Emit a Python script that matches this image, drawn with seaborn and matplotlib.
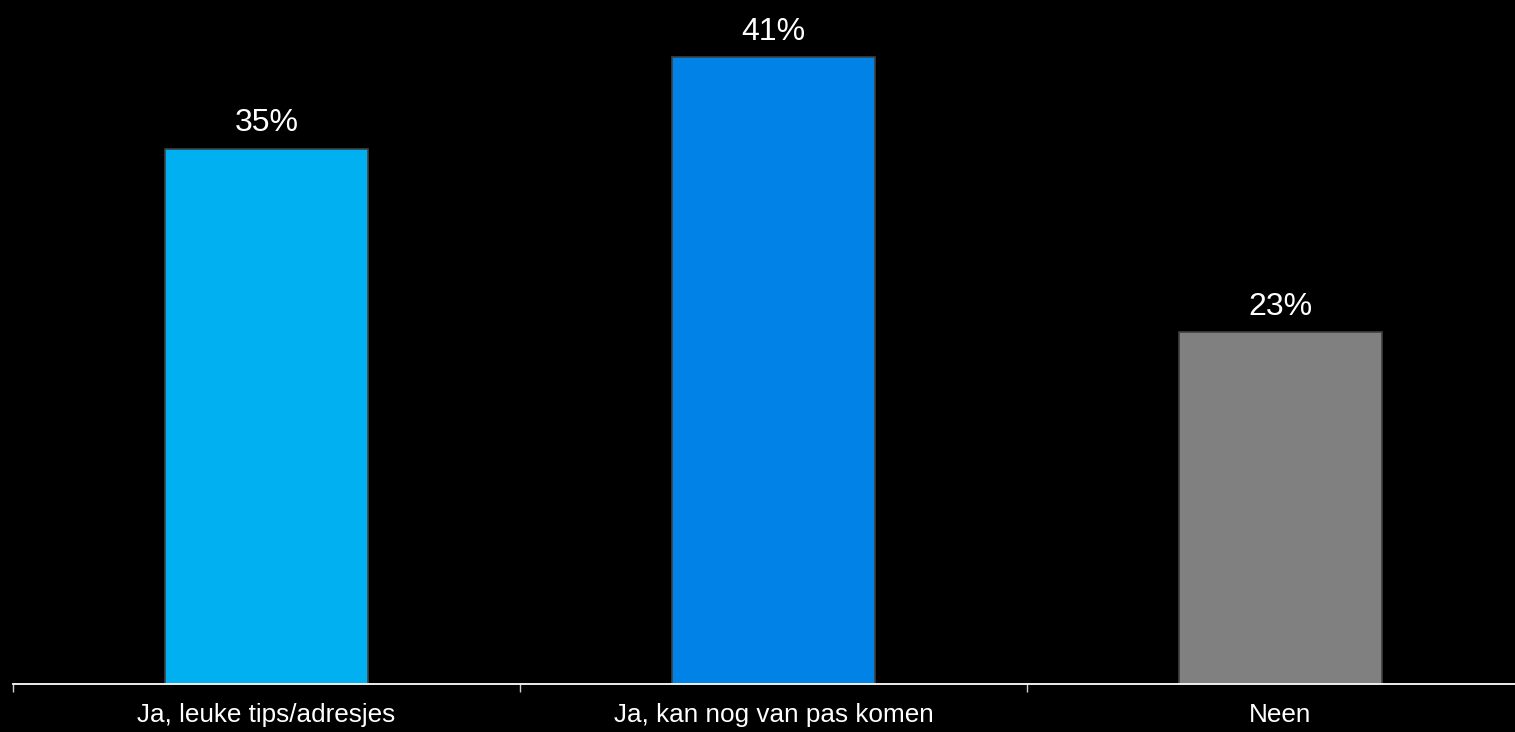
import matplotlib
matplotlib.use("Agg")
import matplotlib.pyplot as plt
import seaborn as sns
import pandas as pd

categories = ["Ja, leuke tips/adresjes", "Ja, kan nog van pas komen", "Neen"]
values = [35, 41, 23]
colors = ["#00B0F0", "#0082E6", "#808080"]

sns.set_style("white")
plt.rcParams['font.family'] = ['Liberation Sans', 'DejaVu Sans']

df = pd.DataFrame({"cat": categories, "val": values})

W, H = 1515, 732
fig = plt.figure(figsize=(W / 100, H / 100), dpi=100, facecolor="black")
ax = fig.add_axes([13 / W, (H - 684) / H, 3 * 507 / W, 684 / H])
ax.set_facecolor("black")

sns.barplot(data=df, x="cat", y="val", hue="cat", palette=colors, order=categories,
            hue_order=categories, width=0.4, edgecolor="#404040", linewidth=1.2,
            legend=False, ax=ax, saturation=1)

ax.set_xlim(-0.5, 2.5)
ax.set_ylim(0, 684 / 15.29)

for i, v in enumerate(values):
    ax.annotate(f"{v}%", (i, v), xytext=(0, 12.5), textcoords="offset points",
                ha="center", va="baseline", color="white", fontsize=23)

ax.set_xlabel("")
ax.set_ylabel("")
ax.set_yticks([])
ax.set_xticks([0, 1, 2])
ax.set_xticklabels(categories, color="white", fontsize=18.8)
ax.tick_params(axis="x", which="major", bottom=False, length=0, pad=14)
# category boundary tick marks
ax.set_xticks([-0.5, 0.5, 1.5], minor=True)
ax.tick_params(axis="x", which="minor", bottom=True, length=6, width=1, color="#D0D0D0")

for s in ["top", "left", "right"]:
    ax.spines[s].set_visible(False)
ax.spines["bottom"].set_color("white")
ax.spines["bottom"].set_linewidth(1.3)

fig.savefig("out.png", dpi=100, facecolor="black")
